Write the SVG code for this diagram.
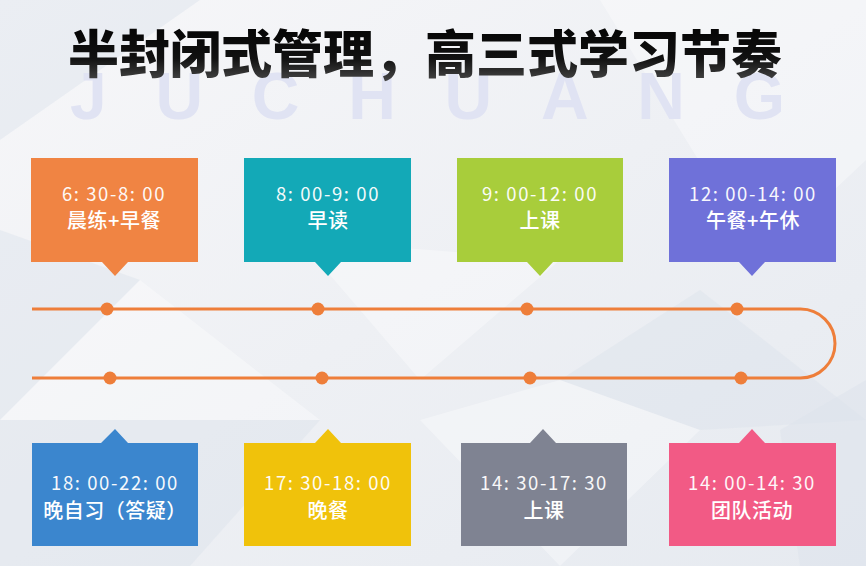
<svg xmlns="http://www.w3.org/2000/svg" width="866" height="566" viewBox="0 0 866 566">
<defs>
<linearGradient id="bg" x1="0" y1="0" x2="1" y2="1">
<stop offset="0" stop-color="#F7F7F9"/>
<stop offset="0.5" stop-color="#EEF0F4"/>
<stop offset="1" stop-color="#E6EAF0"/>
</linearGradient>
<linearGradient id="tg" x1="0" y1="0" x2="0" y2="1">
<stop offset="0" stop-color="#000"/>
<stop offset="0.6" stop-color="#111"/>
<stop offset="1" stop-color="#555"/>
</linearGradient>
<style>
.t1{font-family:"Noto Sans CJK SC","Noto Sans",sans-serif;font-size:18.5px;letter-spacing:1.6px;fill:#fff;text-anchor:middle;opacity:.95}
.t2{font-family:"Noto Sans CJK SC","Noto Sans",sans-serif;font-size:20px;letter-spacing:0.5px;fill:#fff;text-anchor:middle;font-weight:500}
.dot{fill:#EE7E3A}
.poly{fill:#fff;opacity:.35}
.polyd{fill:#DCE2EA;opacity:.45}
</style>
</defs>
<rect width="866" height="566" fill="url(#bg)"/>
<g id="background">
<polygon class="polyd" points="0,230 140,280 0,420"/>
<polygon class="poly" points="140,280 320,420 0,420"/>
<polygon class="polyd" points="0,420 320,420 190,566 0,566"/>
<polygon class="polyd" points="560,380 700,290 866,420 700,430"/>
<polygon class="poly" points="420,420 560,380 700,430 560,566"/>
<polygon class="polyd" points="780,430 866,380 866,566 800,566"/>
<polygon class="poly" points="600,0 866,0 866,160 760,260"/>
<polygon class="polyd" points="0,0 200,0 0,140"/>
<polygon class="poly" points="300,240 560,260 420,380"/>
</g>
<g id="title">
<text x="70" y="119" textLength="715" lengthAdjust="spacing" font-family="Liberation Sans, Arial, sans-serif" font-weight="bold" font-size="66" fill="#E0E3F3">JUCHUANG</text>
<text x="425" y="73" text-anchor="middle" font-family="Noto Sans CJK SC, sans-serif" font-weight="900" font-size="51" fill="url(#tg)">半封闭式管理，高三式学习节奏</text>
</g>
<g id="connectors">
<path d="M32 309 H800.5 A34.5 34.5 0 0 1 800.5 378 H32" fill="none" stroke="#EE7E3A" stroke-width="3"/>
<circle class="dot" cx="107" cy="309" r="6.5"/>
<circle class="dot" cx="318" cy="309" r="6.5"/>
<circle class="dot" cx="527" cy="309" r="6.5"/>
<circle class="dot" cx="737" cy="309" r="6.5"/>
<circle class="dot" cx="110" cy="378" r="6.5"/>
<circle class="dot" cx="322" cy="378" r="6.5"/>
<circle class="dot" cx="530" cy="378" r="6.5"/>
<circle class="dot" cx="741" cy="378" r="6.5"/>
</g>
<g id="n1">
<path d="M31 158 H198 V262 H128 L115 276 L102 262 H31 Z" fill="#F08443"/>
<text class="t1" x="114" y="201">6: 30-8: 00</text>
<text class="t2" x="114" y="228">晨练+早餐</text>
</g>
<g id="n2">
<path d="M244 158 H411 V262 H341 L328 276 L315 262 H244 Z" fill="#13A9B7"/>
<text class="t1" x="328" y="201">8: 00-9: 00</text>
<text class="t2" x="328" y="228">早读</text>
</g>
<g id="n3">
<path d="M457 158 H623 V262 H553 L540 276 L527 262 H457 Z" fill="#A8CD3B"/>
<text class="t1" x="540" y="201">9: 00-12: 00</text>
<text class="t2" x="540" y="228">上课</text>
</g>
<g id="n4">
<path d="M669 158 H836 V262 H765 L752 276 L739 262 H669 Z" fill="#6F71D9"/>
<text class="t1" x="753" y="201">12: 00-14: 00</text>
<text class="t2" x="753" y="228">午餐+午休</text>
</g>
<g id="n5">
<path d="M32 443 H101 L115 429 L128 443 H198 V546 H32 Z" fill="#3B86CE"/>
<text class="t1" x="115" y="490">18: 00-22: 00</text>
<text class="t2" x="115" y="518">晚自习（答疑）</text>
</g>
<g id="n6">
<path d="M244 443 H315 L328 429 L341 443 H411 V546 H244 Z" fill="#F0C20B"/>
<text class="t1" x="328" y="490">17: 30-18: 00</text>
<text class="t2" x="328" y="518">晚餐</text>
</g>
<g id="n7">
<path d="M461 443 H530 L543 429 L556 443 H627 V546 H461 Z" fill="#7F8392"/>
<text class="t1" x="544" y="490">14: 30-17: 30</text>
<text class="t2" x="544" y="518">上课</text>
</g>
<g id="n8">
<path d="M669 443 H739 L752 429 L765 443 H836 V546 H669 Z" fill="#F25A85"/>
<text class="t1" x="752" y="490">14: 00-14: 30</text>
<text class="t2" x="752" y="518">团队活动</text>
</g>
</svg>
